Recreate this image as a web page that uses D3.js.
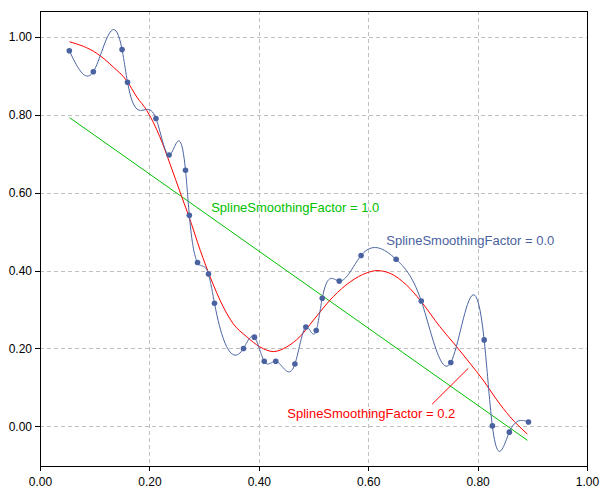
<!DOCTYPE html>
<html>
<head>
<meta charset="utf-8">
<script src="https://cdn.jsdelivr.net/npm/d3@7"></script>
<style>
  html, body { margin: 0; padding: 0; background: #ffffff; }
  svg { display: block; }
</style>
</head>
<body>
<svg id="chart" width="600" height="492"></svg>
<script>
// ---------------- data ----------------
const pointX = [0.0536, 0.0975, 0.150, 0.160, 0.212, 0.236, 0.266, 0.273, 0.288, 0.308,
                0.319, 0.372, 0.392, 0.410, 0.431, 0.466, 0.486, 0.505, 0.516, 0.547,
                0.587, 0.651, 0.697, 0.751, 0.812, 0.827, 0.858, 0.893];
const pointY = [0.965, 0.911, 0.968, 0.884, 0.791, 0.697, 0.658, 0.542, 0.421, 0.391,
                0.316, 0.200, 0.229, 0.167, 0.167, 0.160, 0.255, 0.246, 0.329, 0.373,
                0.439, 0.429, 0.322, 0.164, 0.222, 0.001, -0.015, 0.011];

// smoothed curve (SplineSmoothingFactor = 0.2)
const smoothX = [0.054, 0.104, 0.134, 0.158, 0.177, 0.195, 0.219, 0.238, 0.259, 0.273,
                 0.293, 0.311, 0.335, 0.353, 0.378, 0.402, 0.427, 0.451, 0.475, 0.500,
                 0.536, 0.567, 0.597, 0.616, 0.640, 0.670, 0.695, 0.731, 0.762, 0.786,
                 0.810, 0.835, 0.859, 0.891];
const smoothY = [0.988, 0.958, 0.923, 0.889, 0.846, 0.812, 0.744, 0.673, 0.590, 0.536,
                 0.452, 0.384, 0.307, 0.264, 0.230, 0.204, 0.192, 0.204, 0.230, 0.273,
                 0.333, 0.371, 0.394, 0.400, 0.393, 0.363, 0.324, 0.256, 0.204, 0.162,
                 0.119, 0.068, 0.025, -0.020];

// fully smoothed (SplineSmoothingFactor = 1.0) -> straight line
const lineX = [0.054, 0.891];
const lineY = [0.793, -0.036];

const xTicks = [0, 0.2, 0.4, 0.6, 0.8, 1.0];
const yTicks = [0, 0.2, 0.4, 0.6, 0.8, 1.0];

const labels = [
  { text: "SplineSmoothingFactor = 1.0", x: 0.313, y: 0.551, color: "#00c000" },
  { text: "SplineSmoothingFactor = 0.0", x: 0.633, y: 0.466, color: "#4a63a0" },
  { text: "SplineSmoothingFactor = 0.2", x: 0.452, y: 0.0205, color: "#ff0000" }
];
const leaderX = [0.717, 0.783];
const leaderY = [0.057, 0.149];

// ---------------- layout ----------------
const L = 40, R = 587, T = 11, B = 466;
const svg = d3.select("#chart");
const x = d3.scaleLinear().domain([0, 1]).range([L, R]);
const y = d3.scaleLinear().domain([-0.102, 1.067]).range([B, T]);

const BLUE = "#4a63a0", RED = "#ff0000", GREEN = "#00c000";

// grid
const grid = svg.append("g").attr("shape-rendering", "crispEdges")
  .attr("stroke", "#c0c0c0").attr("stroke-dasharray", "4,3");
grid.selectAll("line.v").data(xTicks.filter(d => d > 0 && d < 1)).enter().append("line")
  .attr("x1", d => Math.round(x(d)) + 0.5).attr("x2", d => Math.round(x(d)) + 0.5)
  .attr("y1", T).attr("y2", B);
grid.selectAll("line.h").data(yTicks).enter().append("line")
  .attr("y1", d => Math.round(y(d)) + 0.5).attr("y2", d => Math.round(y(d)) + 0.5)
  .attr("x1", L).attr("x2", R);

// axes
const fontFam = "'Liberation Sans', Arial, sans-serif";
const xAxis = svg.append("g").attr("transform", `translate(0,${B})`)
  .call(d3.axisBottom(x).tickValues(xTicks).tickFormat(d3.format(".2f"))
    .tickSize(5).tickPadding(6).tickSizeOuter(0));
const yAxis = svg.append("g").attr("transform", `translate(${L},0)`)
  .call(d3.axisLeft(y).tickValues(yTicks).tickFormat(d3.format(".2f"))
    .tickSize(5).tickPadding(3).tickSizeOuter(0));
[xAxis, yAxis].forEach(a => {
  a.select(".domain").remove();
  a.selectAll("line").attr("stroke", "#000").attr("shape-rendering", "crispEdges");
  a.selectAll("text").attr("font-family", fontFam).attr("font-size", 12).attr("fill", "#000");
});

// frame
svg.append("rect").attr("x", L + 0.5).attr("y", T + 0.5)
  .attr("width", R - L).attr("height", B - T)
  .attr("fill", "none").attr("stroke", "#000").attr("stroke-width", 1.2)
  .attr("shape-rendering", "crispEdges");

// natural cubic spline y(x) through the points (smoothing factor 0)
function naturalSpline(xs, ys) {
  const n = xs.length;
  const h = [], a = [], b = [], c = [], d = [];
  for (let i = 0; i < n - 1; i++) h.push(xs[i + 1] - xs[i]);
  const M = new Array(n).fill(0);
  const m = n - 2;
  const diag = [], up = [], low = [], rhs = [];
  for (let i = 1; i <= m; i++) {
    diag.push(2 * (h[i - 1] + h[i]));
    up.push(h[i]);
    low.push(h[i - 1]);
    rhs.push(6 * ((ys[i + 1] - ys[i]) / h[i] - (ys[i] - ys[i - 1]) / h[i - 1]));
  }
  for (let i = 1; i < m; i++) {
    const w = low[i] / diag[i - 1];
    diag[i] -= w * up[i - 1];
    rhs[i] -= w * rhs[i - 1];
  }
  const sol = new Array(m);
  sol[m - 1] = rhs[m - 1] / diag[m - 1];
  for (let i = m - 2; i >= 0; i--) sol[i] = (rhs[i] - up[i] * sol[i + 1]) / diag[i];
  for (let i = 0; i < m; i++) M[i + 1] = sol[i];
  const out = [];
  for (let i = 0; i < n - 1; i++) {
    const steps = 24;
    for (let k = 0; k < steps; k++) {
      const t = xs[i] + h[i] * k / steps;
      const A = (xs[i + 1] - t) / h[i], Bc = (t - xs[i]) / h[i];
      const v = A * ys[i] + Bc * ys[i + 1] +
        ((A * A * A - A) * M[i] + (Bc * Bc * Bc - Bc) * M[i + 1]) * h[i] * h[i] / 6;
      out.push([t, v]);
    }
  }
  out.push([xs[n - 1], ys[n - 1]]);
  return out;
}

const line = d3.line().x(d => x(d[0])).y(d => y(d[1]));

// green straight line
svg.append("path").datum(lineX.map((v, i) => [v, lineY[i]]))
  .attr("d", line).attr("fill", "none").attr("stroke", GREEN).attr("stroke-width", 1);

// red smoothed curve
svg.append("path").datum(smoothX.map((v, i) => [v, smoothY[i]]))
  .attr("d", line.curve(d3.curveMonotoneX)).attr("fill", "none")
  .attr("stroke", RED).attr("stroke-width", 1);
line.curve(d3.curveLinear);

// blue interpolating spline
svg.append("path").datum(naturalSpline(pointX, pointY))
  .attr("d", line).attr("fill", "none").attr("stroke", BLUE).attr("stroke-width", 1);

// points
svg.append("g").selectAll("circle").data(pointX.map((v, i) => [v, pointY[i]]))
  .enter().append("circle")
  .attr("cx", d => x(d[0])).attr("cy", d => y(d[1])).attr("r", 2.8)
  .attr("fill", BLUE);

// leader line for red label
svg.append("line")
  .attr("x1", x(leaderX[0])).attr("y1", y(leaderY[0]))
  .attr("x2", x(leaderX[1])).attr("y2", y(leaderY[1]))
  .attr("stroke", RED).attr("stroke-width", 1);

// labels
svg.append("g").selectAll("text").data(labels).enter().append("text")
  .attr("x", d => x(d.x)).attr("y", d => y(d.y))
  .attr("font-family", fontFam).attr("font-size", 13)
  .attr("fill", d => d.color).text(d => d.text);
</script>
</body>
</html>
